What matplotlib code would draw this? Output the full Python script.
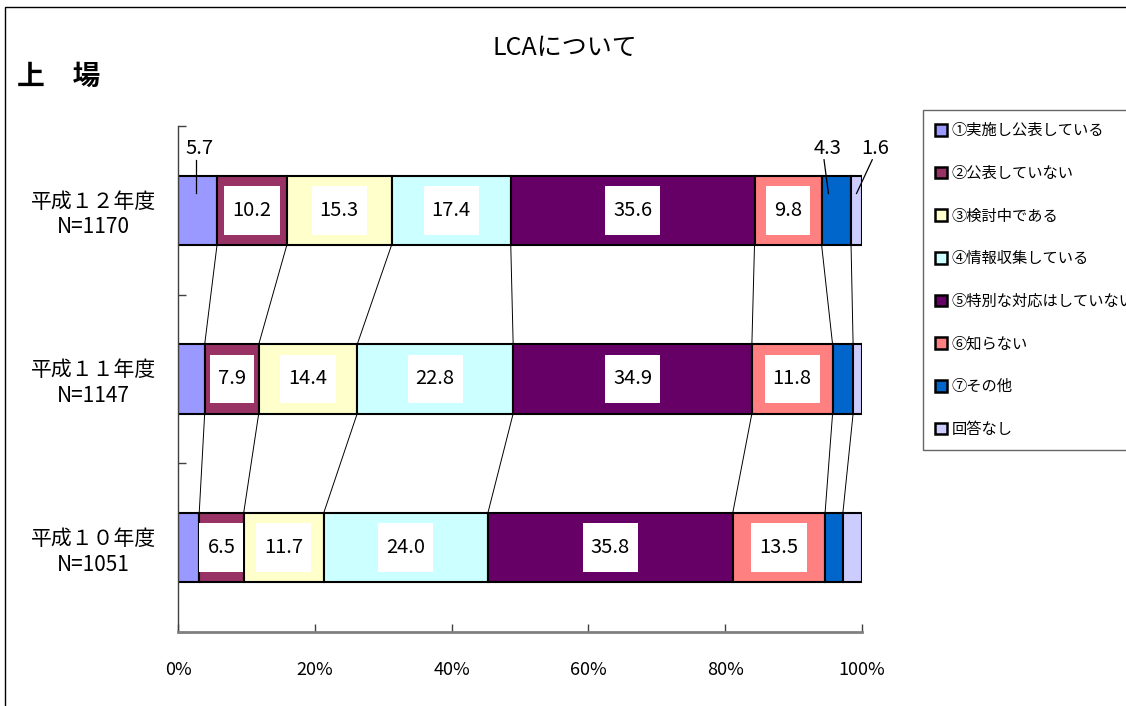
"""100% stacked bar chart of LCA responses (listed companies), H10-H12."""

import matplotlib

matplotlib.use("Agg")
import matplotlib.pyplot as plt
import numpy as np
from matplotlib.patches import Rectangle
from matplotlib.path import Path

plt.rcParams["font.family"] = ["Noto Sans CJK JP", "DejaVu Sans"]

categories = ["平成１２年度\nN=1170", "平成１１年度\nN=1147", "平成１０年度\nN=1051"]
series_names = [
    "①実施し公表している",
    "②公表していない",
    "③検討中である",
    "④情報収集している",
    "⑤特別な対応はしていない",
    "⑥知らない",
    "⑦その他",
    "回答なし",
]
h12 = [5.7, 10.2, 15.3, 17.4, 35.6, 9.8, 4.3, 1.6]
h11 = [3.9, 7.9, 14.4, 22.8, 34.9, 11.8, 3.0, 1.3]
h10 = [3.1, 6.5, 11.7, 24.0, 35.8, 13.5, 2.6, 2.8]
x_ticks = [0, 20, 40, 60, 80, 100]
x_tick_labels = ["0%", "20%", "40%", "60%", "80%", "100%"]

colors = ["#9999FF", "#993366", "#FFFFCC", "#CCFFFF",
          "#660066", "#FF8080", "#0066CC", "#CCCCFF"]

# series shown inside the bars (0-based)
inner_labels = [1, 2, 3, 4, 5]
# small H12 segments labelled above the bar: (series, label dx, leader top dx, tip dx)
outer_labels = [(0, 0.35, -0.25, -0.25), (6, -1.35, -1.8, -1.15), (7, 2.8, 2.3, 0.0)]

BAR_H = 0.41


def label_box(x0, y0, width, height, mutation_size):
    padx = 0.40 * mutation_size
    pady = 0.68 * mutation_size
    x0, y0 = x0 - padx, y0 - pady
    x1, y1 = x0 + width + 2 * padx, y0 + height + 2 * pady
    return Path([(x0, y0), (x1, y0), (x1, y1), (x0, y1), (x0, y0)], closed=True)


rows = np.array([h12, h11, h10])
rows = rows / rows.sum(axis=1, keepdims=True) * 100
ypos = np.array([2, 1, 0])
lefts = np.hstack([np.zeros((3, 1)), np.cumsum(rows, axis=1)])

fig = plt.figure(figsize=(11.26, 7.06), dpi=100)
ax = fig.add_axes([178 / 1126, 1 - 632 / 706, 684 / 1126, 506 / 706])

for j, name in enumerate(series_names):
    ax.barh(ypos, rows[:, j], left=lefts[:, j], height=BAR_H,
            color=colors[j], edgecolor="black", linewidth=1.5, label=name)

# series lines between neighbouring bars
for r in range(2):
    for k in range(1, 9):
        ax.plot([lefts[r, k], lefts[r + 1, k]],
                [ypos[r] - BAR_H / 2, ypos[r + 1] + BAR_H / 2],
                color="black", linewidth=0.7, zorder=1)

raw = [h12, h11, h10]
for r in range(3):
    for j in inner_labels:
        cx = lefts[r, j] + rows[r, j] / 2
        ax.text(cx, ypos[r], f"{raw[r][j]:.1f}", ha="center", va="center",
                fontsize=14.5, zorder=5,
                bbox=dict(boxstyle=label_box, facecolor="white", edgecolor="none"))

for j, dx, top, tip in outer_labels:
    cx = lefts[0, j] + rows[0, j] / 2
    ax.text(cx + dx, ypos[0] + 0.367, f"{h12[j]:.1f}", ha="center", va="center",
            fontsize=14.5, clip_on=False)
    ax.plot([cx + top, cx + tip], [ypos[0] + 0.30, ypos[0] + 0.10],
            color="black", linewidth=0.9, clip_on=False, zorder=6)

ax.set_xlim(0, 100)
ax.set_ylim(-0.5, 2.5)
ax.set_xticks(x_ticks)
ax.set_xticklabels(x_tick_labels, fontsize=13)
ax.set_yticks(ypos)
ax.set_yticklabels(categories, fontsize=15, linespacing=1.2)
plt.setp(ax.get_yticklabels(), ha="center", multialignment="center")
ax.set_yticks([-0.5, 0.5, 1.5, 2.5], minor=True)
ax.tick_params(axis="y", which="major", length=0, pad=61)
ax.tick_params(axis="y", which="minor", direction="in", length=6,
               color="#404040", width=1)
ax.tick_params(axis="x", direction="in", length=6, color="#404040",
               width=1, pad=21)

for side in ("top", "right"):
    ax.spines[side].set_visible(False)
ax.spines["left"].set_color("#404040")
ax.spines["left"].set_linewidth(1)
ax.spines["bottom"].set_color("#808080")
ax.spines["bottom"].set_linewidth(2)

fig.text(565 / 1126, 1 - 48 / 706, "LCAについて", ha="center", va="center",
         fontsize=18)
fig.text(17 / 1126, 1 - 77 / 706, "上　場", ha="left", va="center",
         fontsize=20, fontweight="bold")

leg = fig.legend(loc="upper left", bbox_to_anchor=(923 / 1126, 1 - 110 / 706),
                 fontsize=11, frameon=True, fancybox=False, borderaxespad=0,
                 handlelength=0.8, handleheight=0.8, handletextpad=0.25,
                 labelspacing=1.68, borderpad=0.8)
leg.get_frame().set_edgecolor("#404040")
leg.get_frame().set_linewidth(1)
for handle in leg.legend_handles:
    handle.set_linewidth(1.8)

fig.patches.append(Rectangle((5 / 1126, -0.1), 1.2, 1.1 - 7 / 706,
                             transform=fig.transFigure, fill=False,
                             edgecolor="black", linewidth=1))

fig.savefig("out.png", dpi=100)
